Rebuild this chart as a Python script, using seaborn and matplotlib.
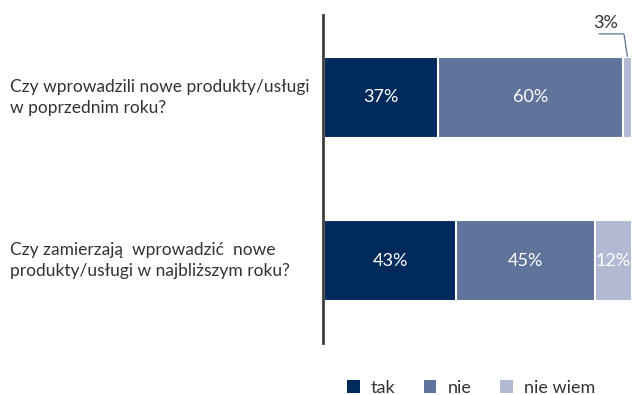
import numpy as np
import pandas as pd
import matplotlib
matplotlib.use("Agg")
import matplotlib.pyplot as plt
from matplotlib.patches import Patch
import seaborn as sns

questions = [
    "Czy wprowadzili nowe produkty/usługi\nw poprzednim roku?",
    "Czy zamierzają  wprowadzić  nowe\nprodukty/usługi w najbliższym roku?",
]
tak = [37, 43]
nie = [60, 45]
nie_wiem = [3, 12]
series_names = ["tak", "nie", "nie wiem"]
colors = ["#002a5c", "#5f739b", "#b1b9d3"]

sns.set_theme(style="white")
plt.rcParams["font.family"] = ["Lato", "DejaVu Sans"]

fig = plt.figure(figsize=(6.32, 3.95), dpi=100)
ax = fig.add_axes([324 / 632, 1 - 343 / 395, 1 - 324 / 632, (343 - 15) / 395])

values = np.array([tak, nie, nie_wiem], dtype=float)
cum = values.cumsum(axis=0)

# stacked bars: draw cumulative totals from the outermost segment inwards
for i in range(len(series_names) - 1, -1, -1):
    df = pd.DataFrame({"q": questions, "v": cum[i]})
    sns.barplot(data=df, x="v", y="q", orient="h", color=colors[i],
                width=0.5, edgecolor="white", linewidth=1.5, saturation=1,
                ax=ax)

# value labels inside segments
for j in range(len(questions)):
    start = 0.0
    for i in range(len(series_names)):
        v = values[i, j]
        if v >= 10:
            ax.text(start + v / 2, j, f"{int(v)}%", ha="center", va="center",
                    color="white", fontsize=13)
        start += v

# small segment labelled above the bar with a leader line
j = 0
small = values[2, j]
seg_mid = cum[1, j] + small / 2
ax.text(91.5, -0.455, f"{int(small)}%", ha="center", va="center",
        fontsize=13, color="#333333", clip_on=False)
ax.plot([89.3, 97.4, seg_mid], [-0.39, -0.39, -0.252], color="#5f739b",
        lw=0.9, clip_on=False, solid_joinstyle="miter")

ax.set_xlim(0, 100)
ax.set_ylim(1.506, -0.506)
ax.set_xlabel("")
ax.set_ylabel("")
ax.set_xticks([])
for s in ["top", "right", "bottom"]:
    ax.spines[s].set_visible(False)
ax.spines["left"].set_color("#404040")
ax.spines["left"].set_linewidth(2)
ax.spines["left"].set_position(("outward", 1))
ax.tick_params(axis="y", length=0, pad=0)
ax.set_yticklabels([])

# question labels, left aligned at the figure edge
for j, q in enumerate(questions):
    y_fig = ax.transData.transform((0, j))[1]
    fig.text(10 / 632, y_fig / fig.bbox.height, q, ha="left", va="center",
             fontsize=12.5, color="#333333", linespacing=1.35)

handles = [Patch(facecolor=c, edgecolor="none") for c in colors]
fig.legend(handles, series_names, loc="center", bbox_to_anchor=(0.745, 0.018),
           ncol=3, frameon=False, fontsize=13, handlelength=0.7,
           handleheight=0.7, handletextpad=0.6, columnspacing=1.6,
           labelcolor="#333333")

fig.savefig("out.png", dpi=100)
